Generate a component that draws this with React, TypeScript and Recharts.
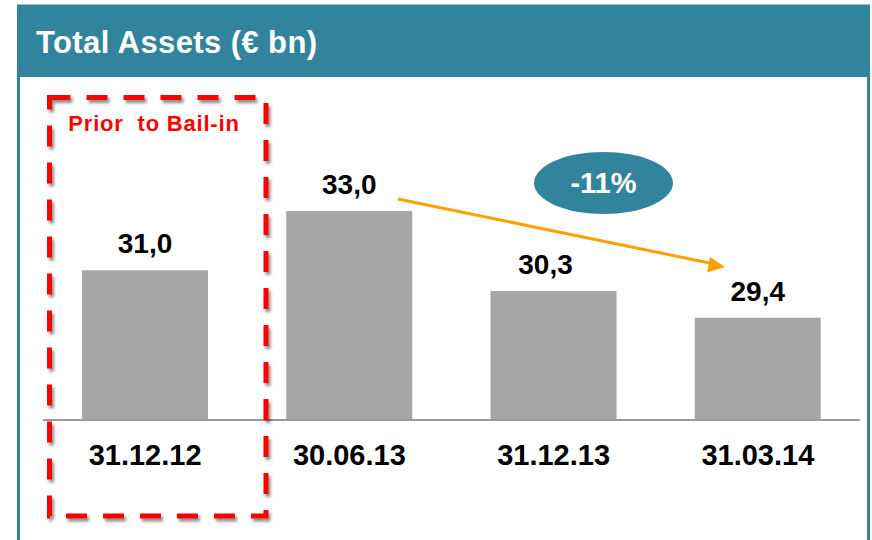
import React from 'react';
import { BarChart, Bar, XAxis, YAxis, LabelList } from 'recharts';

const categories = ['31.12.12', '30.06.13', '31.12.13', '31.03.14'];
const totalAssets = [31.0, 33.0, 30.3, 29.4];
const title = 'Total Assets (€ bn)';
const boxLabel = 'Prior\u00A0 to Bail-in';
const changeLabel = '-11%';

const data = categories.map((c, i) => ({ period: c, value: totalAssets[i] }));

const TEAL = '#31849B';
const FONT = '"Liberation Sans", Arial, Helvetica, sans-serif';
const LABEL_NUDGE: Record<number, number> = { 2: -8 };

const fmt = (v: any) => Number(v).toFixed(1).replace('.', ',');

const ValueLabel = (props: any) => {
  const { x, y, width, value, index } = props;
  const cx = Number(x) + Number(width) / 2 + (LABEL_NUDGE[index] || 0);
  return (
    <text
      x={cx}
      y={Number(y) - 17}
      textAnchor="middle"
      fill="#000"
      fontSize={28}
      fontWeight="bold"
      fontFamily={FONT}
    >
      {fmt(value)}
    </text>
  );
};

export default function App() {
  return (
    <div style={{ position: 'absolute', left: 0, top: 0, width: 872, height: 540, background: '#fff', fontFamily: FONT }}>
      <BarChart
        width={872}
        height={540}
        data={data}
        margin={{ top: 211, right: 12, bottom: 90, left: 43 }}
      >
        <YAxis type="number" domain={[25.95, 33]} hide allowDataOverflow />
        <XAxis
          dataKey="period"
          interval={0}
          tickLine={false}
          tickSize={0}
          tickMargin={24}
          axisLine={{ stroke: '#9A9A9A', strokeWidth: 2 }}
          tick={{ fontSize: 29, fontWeight: 'bold', fill: '#000', fontFamily: FONT }}
        />
        <Bar dataKey="value" fill="#A6A6A6" barSize={126} isAnimationActive={false}>
          <LabelList dataKey="value" content={<ValueLabel />} />
        </Bar>
      </BarChart>
      <svg
        width={872}
        height={540}
        style={{ position: 'absolute', left: 0, top: 0, pointerEvents: 'none' }}
      >
        <defs>
          <filter id="shadow" x="-20%" y="-20%" width="140%" height="140%">
            <feDropShadow dx="2" dy="3" stdDeviation="1.6" floodColor="#000" floodOpacity="0.45" />
          </filter>
        </defs>
        <rect x={18.5} y={6} width={850} height={600} fill="none" stroke={TEAL} strokeWidth={3} />
        <rect x={17} y={6} width={853} height={71} fill={TEAL} />
        <text x={36} y={53} fill="#fff" fontSize={31} fontWeight="bold" fontFamily={FONT} letterSpacing={0.4}>
          {title}
        </text>
        <rect
          x={49.5}
          y={97.5}
          width={216.5}
          height={418.5}
          fill="none"
          stroke="#FF0000"
          strokeWidth={5}
          strokeDasharray="21 16"
          filter="url(#shadow)"
        />
        <text x={154} y={131} fill="#FF0000" fontSize={22} fontWeight="bold" fontFamily={FONT} textAnchor="middle" letterSpacing={0.8}>
          {boxLabel}
        </text>
        <ellipse cx={603.5} cy={183} rx={69.5} ry={31} fill={TEAL} />
        <text x={603.5} y={193} fill="#fff" fontSize={29} fontWeight="bold" fontFamily={FONT} textAnchor="middle">
          {changeLabel}
        </text>
        <line x1={398} y1={199} x2={712} y2={263.5} stroke="#FFA000" strokeWidth={3} />
        <polygon points="725,267 707,272.5 710,257" fill="#FFA000" />
      </svg>
    </div>
  );
}
